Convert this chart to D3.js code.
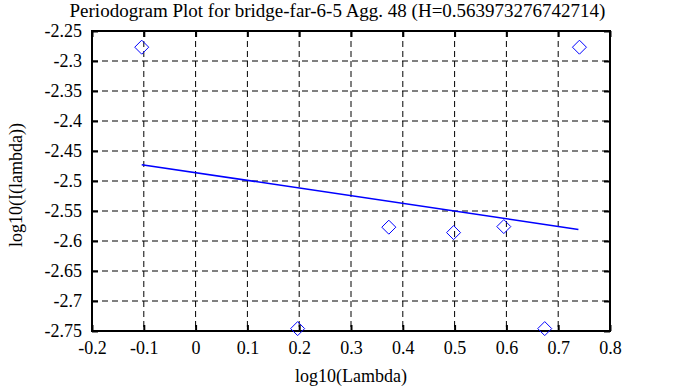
<!DOCTYPE html>
<html>
<head>
<meta charset="utf-8">
<script src="https://cdn.jsdelivr.net/npm/d3@7"></script>
<style>
  body { margin: 0; background: #fff; }
</style>
</head>
<body>
<svg id="chart"></svg>
<script>
// periodogram plot — points, fitted line, gnuplot-ish frame

const TITLE = "Periodogram Plot for bridge-far-6-5 Agg. 48 (H=0.563973276742714)";
const X_LABEL = "log10(Lambda)";
const Y_LABEL = "log10(I(lambda))";

const pointX = [-0.104, 0.197, 0.373, 0.498, 0.595, 0.674, 0.741];
const pointY = [-2.277, -2.746, -2.577, -2.586, -2.576, -2.746, -2.277];

const fitX = [-0.104, 0.739];
const fitY = [-2.4728, -2.5807];

const xTicks = [-0.2, -0.1, 0, 0.1, 0.2, 0.3, 0.4, 0.5, 0.6, 0.7, 0.8];
const yTicks = [-2.25, -2.3, -2.35, -2.4, -2.45, -2.5, -2.55, -2.6, -2.65, -2.7, -2.75];

const W = 683, H = 387;
const MARGIN = { top: 31, right: 73, bottom: 56, left: 92 };
const FONT = "'Liberation Serif', 'DejaVu Serif', serif";
const FS = "18px";

const svg = d3.select("#chart").attr("width", W).attr("height", H);
const innerW = W - MARGIN.left - MARGIN.right;
const innerH = H - MARGIN.top - MARGIN.bottom;

const g = svg.append("g").attr("transform", `translate(${MARGIN.left},${MARGIN.top})`);

const x = d3.scaleLinear().domain([-0.2, 0.8]).range([0, innerW]);
const y = d3.scaleLinear().domain([-2.75, -2.25]).range([innerH, 0]);

//Dashed grid
g.selectAll(".vgrid").data(xTicks.slice(1, -1)).enter().append("line")
  .attr("x1", d => x(d)).attr("x2", d => x(d))
  .attr("y1", 0).attr("y2", innerH)
  .attr("stroke", "#000").attr("stroke-width", 1).attr("stroke-dasharray", "6,4");

g.selectAll(".hgrid").data(yTicks.slice(1, -1)).enter().append("line")
  .attr("x1", 0).attr("x2", innerW)
  .attr("y1", d => y(d)).attr("y2", d => y(d))
  .attr("stroke", "#000").attr("stroke-width", 1).attr("stroke-dasharray", "6,4");

//Axes with inward ticks on all four sides
const fmt = d => String(+d.toFixed(2));
const axBottom = g.append("g").attr("transform", `translate(0,${innerH})`)
  .call(d3.axisBottom(x).tickValues(xTicks).tickSize(-6).tickPadding(10).tickFormat(fmt));
const axTop = g.append("g")
  .call(d3.axisTop(x).tickValues(xTicks).tickSize(-6).tickFormat(""));
const axLeft = g.append("g")
  .call(d3.axisLeft(y).tickValues(yTicks).tickSize(-6).tickPadding(10).tickFormat(fmt));
const axRight = g.append("g").attr("transform", `translate(${innerW},0)`)
  .call(d3.axisRight(y).tickValues(yTicks).tickSize(-6).tickFormat(""));

[axBottom, axTop, axLeft, axRight].forEach(a => {
  a.select(".domain").remove();
  a.selectAll(".tick line").attr("stroke", "#000").attr("stroke-width", 2);
  a.selectAll("text")
    .style("font-family", FONT)
    .style("font-size", FS)
    .attr("fill", "#000");
});

g.append("rect")
  .attr("width", innerW).attr("height", innerH)
  .attr("fill", "none").attr("stroke", "#000").attr("stroke-width", 2);

//Fitted line
g.append("path")
  .datum(fitX.map((d, i) => [d, fitY[i]]))
  .attr("d", d3.line().x(d => x(d[0])).y(d => y(d[1])))
  .attr("fill", "none").attr("stroke", "#0000ff").attr("stroke-width", 1.5);

//Diamond points
const S = 7;
g.selectAll(".pt").data(pointX.map((d, i) => [d, pointY[i]])).enter().append("path")
  .attr("class", "pt")
  .attr("transform", d => `translate(${x(d[0])},${y(d[1])})`)
  .attr("d", `M0,${-S}L${S},0L0,${S}L${-S},0Z`)
  .attr("fill", "none").attr("stroke", "#0000ff").attr("stroke-width", 1);

//Labels
function label(sel, size) {
  return sel.attr("text-anchor", "middle")
    .style("font-family", FONT).style("font-size", size || FS).attr("fill", "#000");
}

label(svg.append("text").attr("x", W / 2 - 4).attr("y", 17), "19px").text(TITLE);

label(svg.append("text").attr("x", MARGIN.left + innerW / 2).attr("y", 382)).text(X_LABEL);

label(svg.append("text")
  .attr("transform", `translate(22,${MARGIN.top + innerH / 2 + 4}) rotate(-90)`)).text(Y_LABEL);
</script>
</body>
</html>
